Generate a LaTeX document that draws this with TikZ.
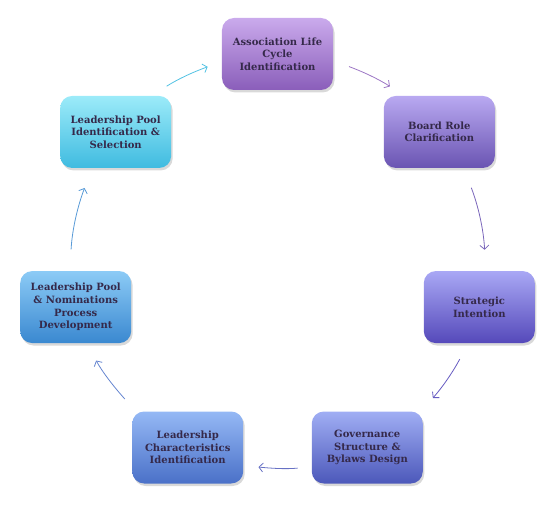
\documentclass[tikz,border=0pt]{standalone}
\usepackage{fontspec}
\setmainfont{DejaVu Serif}
\usetikzlibrary{arrows.meta,shadows}
\definecolor{txt}{HTML}{35294A}
\definecolor{assoctop}{HTML}{CAAAEC}
\definecolor{assocbot}{HTML}{8A5EBA}
\definecolor{boardtop}{HTML}{B9A9F1}
\definecolor{boardbot}{HTML}{6A54B2}
\definecolor{strattop}{HTML}{A9A8F5}
\definecolor{stratbot}{HTML}{5549BA}
\definecolor{govtop}{HTML}{A0AEF4}
\definecolor{govbot}{HTML}{4C58BA}
\definecolor{chartop}{HTML}{95B9F5}
\definecolor{charbot}{HTML}{4A70C8}
\definecolor{pooltop}{HTML}{8CCBF6}
\definecolor{poolbot}{HTML}{3A88D0}
\definecolor{seltop}{HTML}{9CEBF9}
\definecolor{selbot}{HTML}{3FBBE0}
\begin{document}
\begin{tikzpicture}[x=1pt, y=1pt, thick,
  stage/.style={rectangle, rounded corners=12pt, minimum width=111pt, minimum height=72pt, inner sep=2pt, align=center, text=txt, font=\bfseries\fontsize{10}{12.6}\selectfont, drop shadow={shadow xshift=1.5pt, shadow yshift=-2.5pt, opacity=0.3}},
  cyc/.style={line width=0.8pt, -{Straight Barb[length=4pt,width=9pt]}}]
\useasboundingbox (-277.5,-245) rectangle (281.5,261);
\node[stage, top color=assoctop, bottom color=assocbot] (assoc) at (90:207) {Association Life\\Cycle\\Identification};
\node[stage, top color=boardtop, bottom color=boardbot] (board) at (38.57:207) {Board Role\\Clarification};
\node[stage, top color=strattop, bottom color=stratbot] (strat) at (-12.86:207) {Strategic\\Intention};
\node[stage, top color=govtop, bottom color=govbot] (gov) at (-64.29:207) {Governance\\Structure \&\\Bylaws Design};
\node[stage, top color=chartop, bottom color=charbot] (lchar) at (-115.71:207) {Leadership\\Characteristics\\Identification};
\node[stage, top color=pooltop, bottom color=poolbot] (lpool) at (-167.14:207) {Leadership Pool\\\& Nominations\\Process\\Development};
\node[stage, top color=seltop, bottom color=selbot] (lsel) at (141.43:207) {Leadership Pool\\Identification \&\\Selection};

\draw[cyc, draw=assocbot!85, shorten <=16.6pt, shorten >=16.9pt] (assoc.-7.1) to[out=-20.1, in=147.3] (board.134.8);
\draw[cyc, draw=boardbot!90, shorten <=20.7pt, shorten >=20.9pt] (board.-56.1) to[out=-69.1, in=93] (strat.80.5);
\draw[cyc, draw=stratbot!90, shorten <=17.8pt, shorten >=17.5pt] (strat.-107) to[out=-118.2, in=48.4] (gov.34);
\draw[cyc, draw=govbot!85, shorten <=13.8pt, shorten >=14.9pt] (gov.-161.9) to[out=-174.3, in=-5.4] (lchar.-18.2);
\draw[cyc, draw=charbot!85, shorten <=16.2pt, shorten >=19.4pt] (lchar.145.9) to[out=132, in=-61.4] (lpool.-73.4);
\draw[cyc, draw=poolbot!85, shorten <=21.3pt, shorten >=21pt] (lpool.99.6) to[out=86.9, in=-110.8] (lsel.-123.9);
\draw[cyc, draw=selbot!90, shorten <=17.3pt, shorten >=14.8pt] (lsel.45.2) to[out=32.6, in=-160.4] (assoc.-172.8);
\end{tikzpicture}
\end{document}
